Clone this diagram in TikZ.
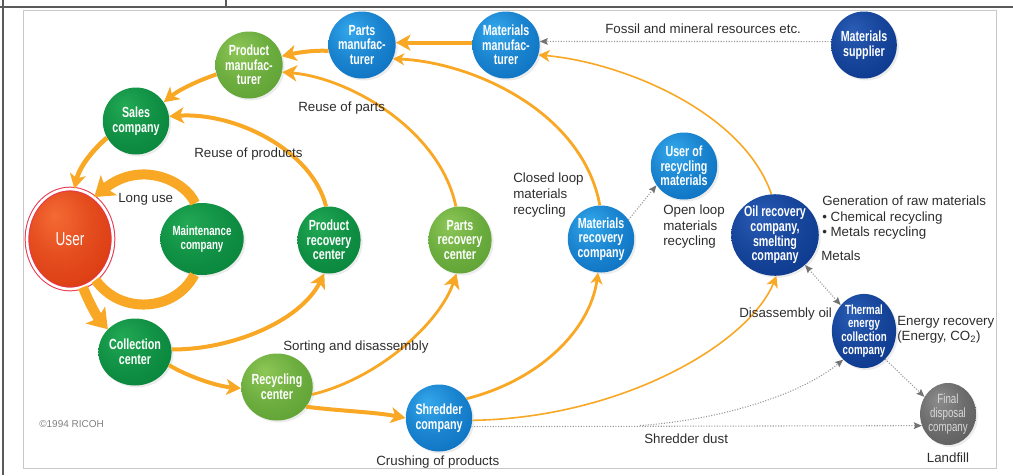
\documentclass[tikz,border=0pt]{standalone}
\usepackage{fontspec}
\setmainfont{Liberation Sans}
\newfontfamily\ballfont[FakeStretch=0.73]{Liberation Sans}
\usetikzlibrary{arrows.meta,shapes.geometric,shadows}

\definecolor{flow}{RGB}{249,168,37}
\definecolor{dotline}{RGB}{150,150,150}
\definecolor{dothead}{RGB}{115,115,115}
\definecolor{lbltext}{RGB}{45,45,45}
\definecolor{ringred}{RGB}{232,52,74}
\definecolor{framedark}{RGB}{90,90,90}
\definecolor{framelight}{RGB}{200,200,200}
\definecolor{dgreenhi}{HTML}{22A955}
\definecolor{dgreenlo}{HTML}{06823A}
\definecolor{lgreenhi}{HTML}{8DC757}
\definecolor{lgreenlo}{HTML}{5A9E31}
\definecolor{lbluehi}{HTML}{34A8EC}
\definecolor{lbluelo}{HTML}{0A6DBD}
\definecolor{dbluehi}{HTML}{2A5DB5}
\definecolor{dbluelo}{HTML}{0A368A}
\definecolor{greyhi}{HTML}{8C8C8C}
\definecolor{greylo}{HTML}{5A5A5A}
\definecolor{userhi}{HTML}{F46A34}
\definecolor{userlo}{HTML}{D8360E}
\colorlet{ballhi}{white}
\colorlet{balllo}{black}
\pgfdeclareradialshading[ballhi,balllo]{sphere}{\pgfpoint{-9bp}{12bp}}{color(0bp)=(ballhi);color(20bp)=(balllo!60!ballhi);color(40bp)=(balllo);color(70bp)=(balllo)}

\tikzset{
  tone/.code 2 args={\colorlet{ballhi}{#1}\colorlet{balllo}{#2}},
  ball/.style={ellipse, inner sep=0pt, minimum width=43.5pt, minimum height=50.25pt,
    text=white, align=center, font=\ballfont\bfseries\fontsize{11}{11}\selectfont,
    shading=sphere, drop shadow={shadow xshift=1.5pt, shadow yshift=-1.5pt, opacity=0.15}},
  dgreen/.style={ball, tone={dgreenhi}{dgreenlo}},
  lgreen/.style={ball, tone={lgreenhi}{lgreenlo}},
  lblue/.style={ball, tone={lbluehi}{lbluelo}},
  dblue/.style={ball, tone={dbluehi}{dbluelo}},
  greyball/.style={ball, tone={greyhi}{greylo}, text=white!85!black},
  userball/.style={ball, tone={userhi}{userlo}, minimum width=64.5pt, minimum height=75pt,
    draw=ringred, line width=0.75pt, double=white, double distance=2pt,
    font=\ballfont\fontsize{14}{15}\selectfont},
  lbl/.style={anchor=base west, inner sep=0pt, text=lbltext, font=\fontsize{10}{11.6}\selectfont},
  lblm/.style={anchor=north west, inner sep=0pt, align=left, text=lbltext, font=\fontsize{10}{11.6}\selectfont},
  bigtip/.tip={Stealth[length=14pt, width=19pt, inset=3pt]},
  midtip/.tip={Stealth[length=11pt, width=12pt, inset=3pt]},
  smalltip/.tip={Stealth[length=8.5pt, width=9pt, inset=2.5pt]},
  greytip/.tip={Stealth[length=6pt, width=5pt, inset=1pt, color=dothead]},
  flowA/.style={draw=flow, line width=7.5pt},
  flowB/.style={draw=flow, line width=3pt},
  flowC/.style={draw=flow, line width=2.1pt},
  flowD/.style={draw=flow, line width=1.2pt},
  dust/.style={draw=dotline, line width=0.8pt, dash pattern=on 0.8pt off 1.2pt},
}

\begin{document}
\begin{tikzpicture}[x=0.75pt,y=0.75pt,yscale=-1,xscale=1]
\useasboundingbox (0,0) rectangle (1013,475);
%Frame
\draw [framedark, line width=1.5pt] (0,6.5) -- (1013,6.5);
\draw [framedark, line width=1.5pt] (3,0) -- (3,475);
\draw [framedark, line width=1.5pt] (226,0) -- (226,6.5);
\draw [framelight, line width=0.75pt] (23.5,10.5) rectangle (996.5,468);

%Shape: Circles
\draw (70,239) node [userball] (user) {User};
\draw (136,121) node [dgreen] (sc) {Sales\\company};
\draw (249,65) node [lgreen] (prm) {Product\\manufac-\\turer};
\draw (362,45) node [lblue] (pam) {Parts\\manufac-\\turer};
\draw (506,45) node [lblue] (mam) {Materials\\manufac-\\turer};
\draw (864,45) node [dblue] (ms) {Materials\\supplier};
\draw (684,166) node [lblue] (urm) {User of\\recycling\\materials};
\draw (202,239) node [dgreen, minimum width=45.75pt, minimum height=54pt, font=\ballfont\bfseries\fontsize{10}{11}\selectfont] (mc) {Maintenance\\company};
\draw (329,240) node [dgreen] (prc) {Product\\recovery\\center};
\draw (460,240) node [lgreen] (parc) {Parts\\recovery\\center};
\draw (601,239) node [lblue] (mrc) {Materials\\recovery\\company};
\draw (775,235) node [dblue, minimum width=53.25pt, minimum height=60.75pt] (orc) {Oil recovery\\company,\\smelting\\company};
\draw (864,331) node [dblue, minimum width=48pt, minimum height=55.5pt, font=\ballfont\bfseries\fontsize{10}{10}\selectfont] (tec) {Thermal\\energy\\collection\\company};
\draw (948,414) node [greyball, minimum width=40.5pt, minimum height=46.5pt, font=\ballfont\fontsize{10}{10.2}\selectfont] (fdc) {Final\\disposal\\company};
\draw (135,352) node [dgreen] (cc) {Collection\\center};
\draw (277,387) node [lgreen] (rc) {Recycling\\center};
\draw (439,418) node [lblue] (shc) {Shredder\\company};

%Curve Lines
\draw [flowB, -midtip] (pam.190) .. controls (312,50) and (296,53) .. (prm.15);
\draw [flowB, -midtip] (prm.196) .. controls (200,80) and (180,89) .. (sc.34);
\draw [flowB, line width=3.5pt, -midtip] (sc.210) .. controls (95,148) and (80,165) .. (user.85);
\draw [flowB, -midtip] (mam.176) -- (pam.4);
\draw [flowA, -bigtip] (mc.101) .. controls (185,180) and (140,160) .. (user.60);
\draw [flowA] (user.302) .. controls (120,315) and (175,312) .. (mc.258);
\draw [flowA, -bigtip] (user.285) .. controls (90,305) and (98,318) .. (cc.140);
\draw [flowB, -midtip] (cc.4) .. controls (230,350) and (300,322) .. (prc.262);
\draw [flowB, -midtip] (prc.95) .. controls (312,150) and (235,112) .. (sc.8);
\draw [flowB, -midtip] (cc.339) .. controls (185,375) and (215,386) .. (rc.182);
\draw [flowC, -midtip] (rc.348) .. controls (380,378) and (440,322) .. (parc.264);
\draw [flowC, -midtip] (parc.97) .. controls (440,130) and (350,78) .. (prm.348);
\draw [flowB, -midtip] (rc.326) .. controls (340,411) and (375,412) .. (shc.180);
\draw [flowC, -smalltip] (shc.35) .. controls (540,380) and (590,330) .. (mrc.265);
\draw [flowC, -smalltip] (mrc.92) .. controls (582,110) and (470,62) .. (pam.336);
\draw [flowD, -smalltip] (shc.356) .. controls (620,418) and (748,345) .. (orc.272);
\draw [flowD, -smalltip] (orc.95) .. controls (742,110) and (620,62) .. (mam.343);

%Dotted Lines
\coordinate (dustfork) at (640,425.5);
\draw [dust, -greytip] (ms.174) -- (mam.6);
\draw [dust, -greytip] (mrc.35) -- (urm.215);
\draw [dust, greytip-greytip] (orc.315) -- (tec.132);
\draw [dust, -greytip] (shc.345) -- (fdc.204);
\draw [dust, -greytip] (dustfork) .. controls (720,420) and (800,395) .. (tec.234);
\draw [dust, -greytip] (tec.307) -- (fdc.144);

% Text Node
\draw (605,33) node [lbl] (fossil) {Fossil and mineral resources etc.};
% Text Node
\draw (298,111) node [lbl] (reuseparts) {Reuse of parts};
% Text Node
\draw (194,157) node [lbl] (reuseprod) {Reuse of products};
% Text Node
\draw (118,202) node [lbl] (longuse) {Long use};
% Text Node
\draw (513,173) node [lblm, font=\fontsize{10}{12}\selectfont] (closedloop) {Closed loop\\materials\\recycling};
% Text Node
\draw (663,205) node [lblm] (openloop) {Open loop\\materials\\recycling};
% Text Node
\draw (822,196) node [lblm] (rawmat) {Generation of raw materials\\\textbullet\ Chemical recycling\\\textbullet\ Metals recycling};
% Text Node
\draw (821,260) node [lbl] (metals) {Metals};
% Text Node
\draw (739,317) node [lbl] (disoil) {Disassembly oil};
% Text Node
\draw (897,316) node [lblm] (energy) {Energy recovery\\(Energy, CO\textsubscript{2})};
% Text Node
\draw (283,350) node [lbl] (sorting) {Sorting and disassembly};
% Text Node
\draw (39,427) node [lbl, text=gray, font=\fontsize{7.5}{9}\selectfont] (copy) {\textcopyright1994 RICOH};
% Text Node
\draw (376,465) node [lbl] (crushing) {Crushing of products};
% Text Node
\draw (644,443) node [lbl] (dusttext) {Shredder dust};
% Text Node
\draw (948,462) node [lbl, anchor=base] (landfill) {Landfill};
\end{tikzpicture}
\end{document}
